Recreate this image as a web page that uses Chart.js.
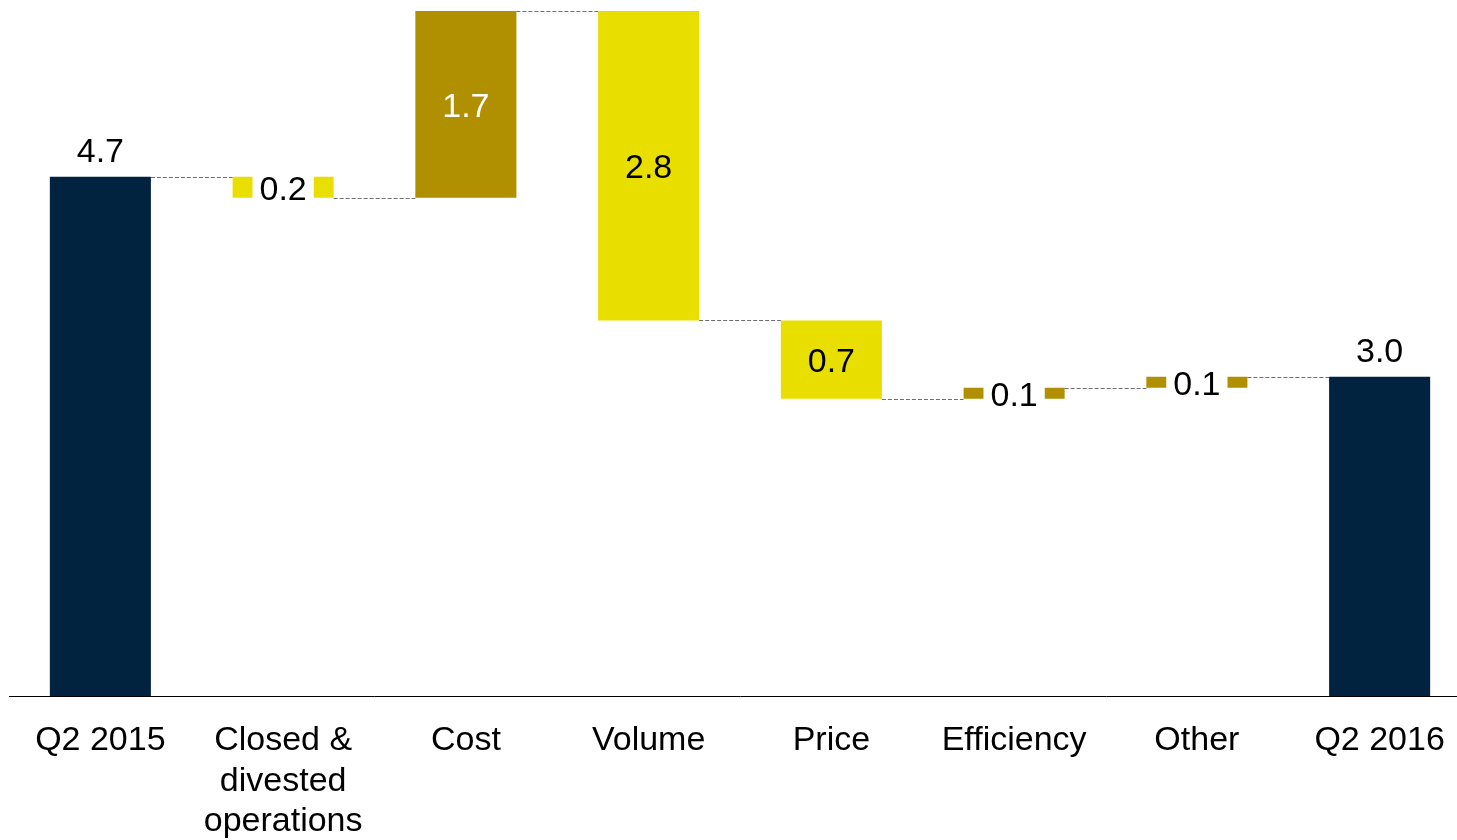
<!DOCTYPE html>
<html>
<head>
<meta charset="utf-8">
<script src="https://cdn.jsdelivr.net/npm/chart.js@4.4.1/dist/chart.umd.min.js"></script>
<style>
  html, body { margin: 0; padding: 0; background: #fff; overflow: hidden; width: 1457px; height: 840px; }
  #wrap { width: 1471px; height: 840px; }
</style>
</head>
<body>
<div id="wrap"><canvas id="c" width="1471" height="840"></canvas></div>
<script>
const categories = [
  "Q2 2015",
  ["Closed &", "divested", "operations"],
  "Cost",
  "Volume",
  "Price",
  "Efficiency",
  "Other",
  "Q2 2016"
];
const startValue = 4.7;
const changes = [-0.19, 1.69, -2.80, -0.71, 0.10, 0.10];
const endValue = 2.89;
const valueLabels = ["4.7", "0.2", "1.7", "2.8", "0.7", "0.1", "0.1", "3.0"];
const barKinds = ["total", "yellow", "olive", "yellow", "yellow", "olive", "olive", "total"];
const labelColors = ["#000", "#000", "#fff", "#000", "#000", "#000", "#000", "#000"];

const palette = { total: "#022340", olive: "#B08F00", yellow: "#E8DF00" };

// build floating ranges
const ranges = [[0, startValue]];
let level = startValue;
changes.forEach(d => {
  const next = level + d;
  ranges.push([Math.min(level, next), Math.max(level, next)]);
  level = next;
});
ranges.push([0, endValue]);
// connector levels between consecutive bars
const connectorLevels = [startValue];
level = startValue;
changes.forEach(d => { level += d; connectorLevels.push(level); });

const FONT = '"Liberation Sans", Arial, sans-serif';

const waterfallPlugin = {
  id: 'waterfall',
  afterDatasetsDraw(chart) {
    const ctx = chart.ctx;
    const meta = chart.getDatasetMeta(0);
    const y = chart.scales.y;
    ctx.save();
    // connectors
    ctx.strokeStyle = '#6e6e6e';
    ctx.lineWidth = 1;
    ctx.setLineDash([4, 2]);
    for (let i = 0; i < meta.data.length - 1; i++) {
      const a = meta.data[i], b = meta.data[i + 1];
      const yy = Math.round(y.getPixelForValue(connectorLevels[i])) + 0.5;
      ctx.beginPath();
      ctx.moveTo(a.x + a.width / 2, yy);
      ctx.lineTo(b.x - b.width / 2, yy);
      ctx.stroke();
    }
    ctx.setLineDash([]);
    // labels
    ctx.font = '34px ' + FONT;
    ctx.textAlign = 'center';
    ctx.textBaseline = 'middle';
    meta.data.forEach((bar, i) => {
      const top = Math.min(bar.y, bar.base);
      const bottom = Math.max(bar.y, bar.base);
      let cy;
      if (barKinds[i] === 'total') {
        cy = top - 24;
      } else {
        cy = (top + bottom) / 2 + 3;
        if (bottom - top < 40) {
          const w = ctx.measureText(valueLabels[i]).width + 14;
          ctx.fillStyle = '#fff';
          ctx.fillRect(bar.x - w / 2, top - 2, w, bottom - top + 4);
        }
      }
      ctx.fillStyle = labelColors[i];
      ctx.fillText(valueLabels[i], bar.x, cy);
    });
    ctx.restore();
  }
};

new Chart(document.getElementById('c'), {
  type: 'bar',
  data: {
    labels: categories,
    datasets: [{
      data: ranges,
      backgroundColor: barKinds.map(k => palette[k]),
      borderWidth: 0,
      categoryPercentage: 1,
      barPercentage: 0.553
    }]
  },
  options: {
    responsive: false,
    animation: false,
    layout: { padding: { left: 9, right: 0, top: 0, bottom: 0 } },
    plugins: { legend: { display: false }, tooltip: { enabled: false } },
    scales: {
      x: {
        grid: { display: false, drawTicks: false },
        border: { display: true, color: '#000', width: 1 },
        ticks: {
          color: '#000',
          font: { family: FONT, size: 34, lineHeight: 1.2 },
          padding: 24,
          maxRotation: 0,
          autoSkip: false
        },
        afterFit(scale) { scale.height = 144; }
      },
      y: {
        display: false,
        min: 0,
        max: 6.3
      }
    }
  },
  plugins: [waterfallPlugin]
});
</script>
</body>
</html>
